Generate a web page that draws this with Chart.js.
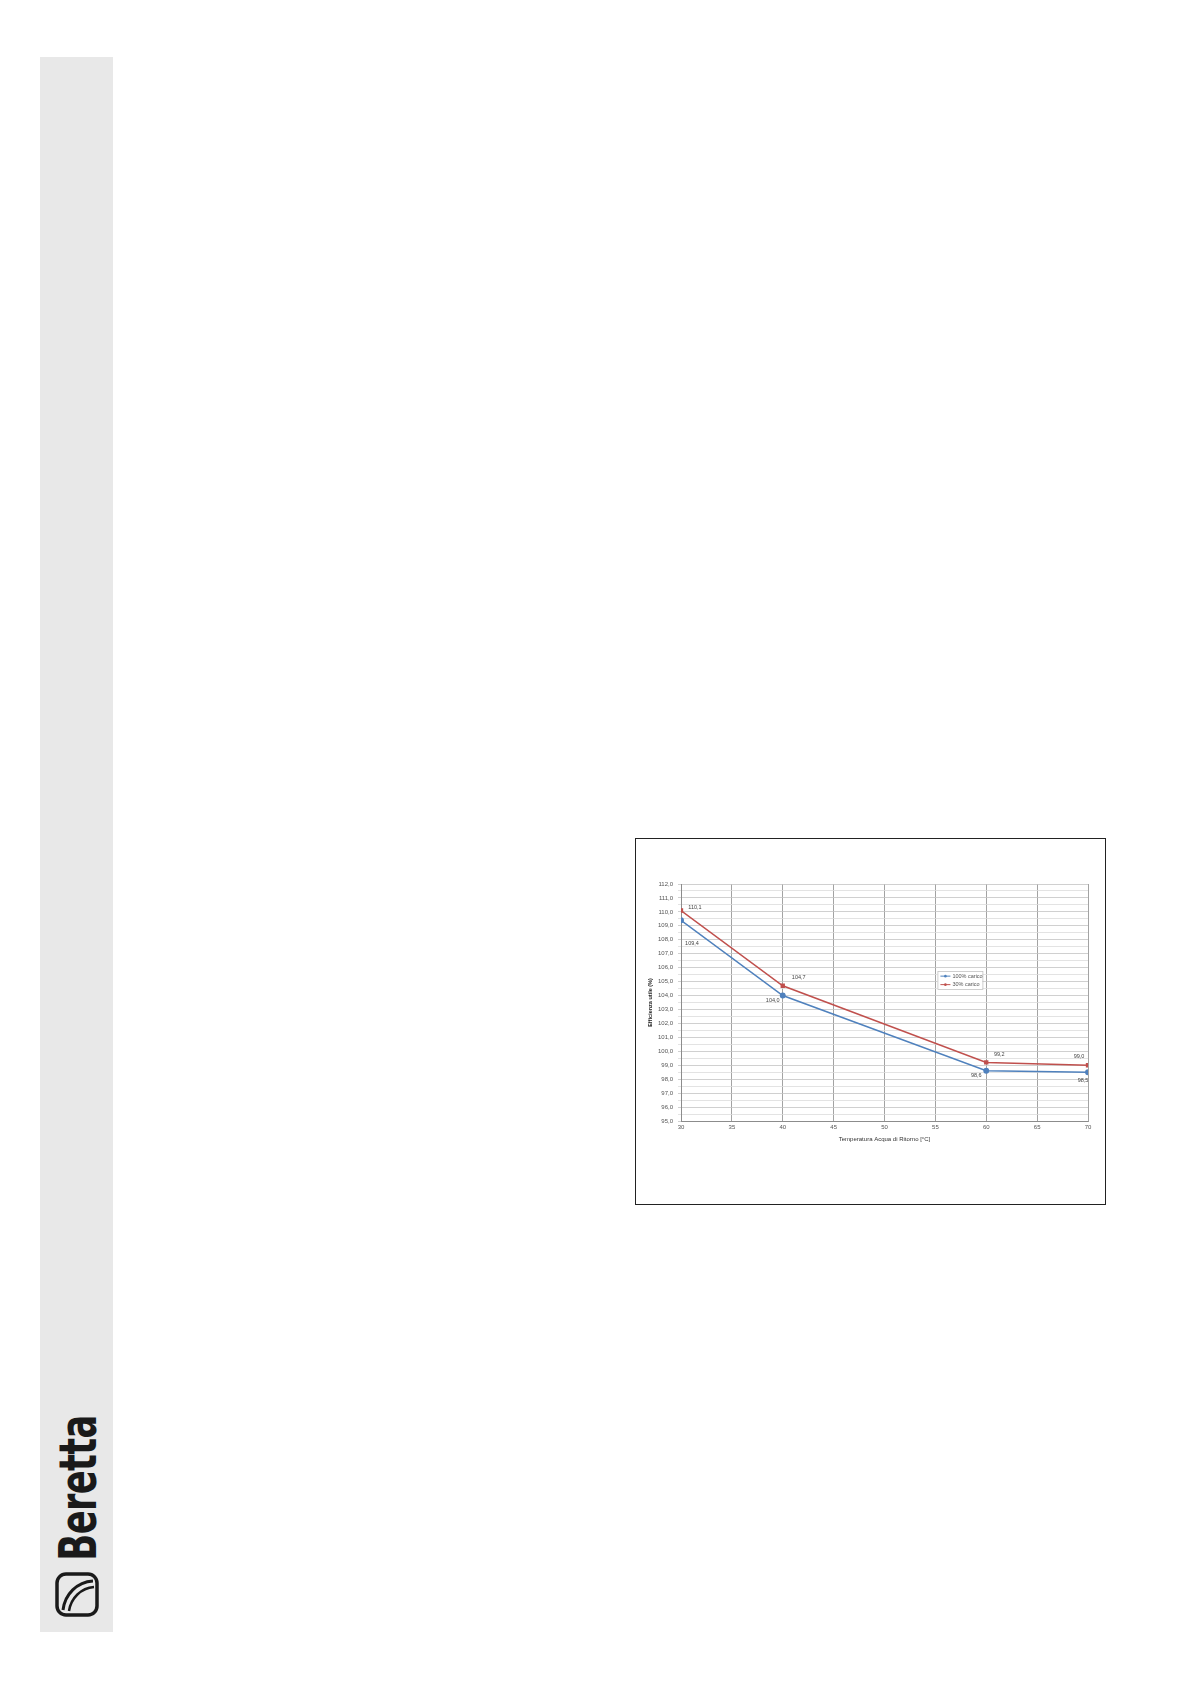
<!DOCTYPE html>
<html lang="it">
<head>
<meta charset="UTF-8">
<title>Efficienza utile</title>
<script src="https://cdn.jsdelivr.net/npm/chart.js@4.4.0/dist/chart.umd.min.js"></script>
<style>
    body {
        margin: 0;
        width: 1191px;
        height: 1684px;
        background: #fff;
        position: relative;
        font-family: 'Liberation Sans', Arial, sans-serif;
    }
    .sidebar {
        position: absolute;
        left: 40px;
        top: 57px;
        width: 73px;
        height: 1575px;
        background: #e8e8e8;
    }
    .brand {
        position: absolute;
        left: 78px;
        top: 1488px;
        transform: translate(-50%, -50%) rotate(-90deg) scaleX(0.68);
        font-family: 'DejaVu Sans', sans-serif;
        font-weight: bold;
        font-size: 52px;
        line-height: 1;
        letter-spacing: -1px;
        color: #1a1a1a;
        white-space: nowrap;
    }
    .logo {
        position: absolute;
        left: 55px;
        top: 1572px;
    }
    .chart-box {
        position: absolute;
        left: 635px;
        top: 838px;
        width: 469px;
        height: 365px;
        border: 1px solid #222;
    }
</style>
</head>
<body>
<div class="sidebar"></div>
<div class="brand">Beretta</div>
<svg class="logo" width="44" height="45" viewBox="0 0 44 45">
    <rect x="2" y="2" width="40" height="41" rx="9" fill="none" stroke="#1a1a1a" stroke-width="3.5"/>
    <path d="M8 38 C 10 22, 22 10, 38 9" fill="none" stroke="#1a1a1a" stroke-width="3"/>
    <path d="M14 39 C 16 26, 26 16, 39 15" fill="none" stroke="#1a1a1a" stroke-width="2.5"/>
</svg>

<div class="chart-box">
    <canvas id="chart" width="469" height="365"></canvas>
</div>

<script>
// --- data ---
const temperature = [30, 40, 60, 70];
const load100 = [109.4, 104.0, 98.6, 98.5];
const load30 = [110.1, 104.7, 99.2, 99.0];
const seriesNames = ['100% carico', '30% carico'];
const xTitle = 'Temperatura Acqua di Ritorno [°C]';
const yTitle = 'Efficienza utile (%)';

const BLUE = '#4f81bd';
const RED = '#c0504d';

function fmt(v) {
    return v.toFixed(1).replace('.', ',');
}

// value labels next to each point (offsets in px)
const valueLabels = {
    id: 'valueLabels',
    afterDatasetsDraw(chart, args, opts) {
        const ctx = chart.ctx;
        ctx.save();
        ctx.font = '5.5px "Liberation Sans", Arial, sans-serif';
        ctx.fillStyle = '#444';
        ctx.textAlign = 'center';
        ctx.textBaseline = 'middle';
        chart.data.datasets.forEach((ds, i) => {
            const meta = chart.getDatasetMeta(i);
            const offs = opts.offsets[i];
            meta.data.forEach((pt, j) => {
                ctx.fillText(fmt(ds.data[j].y), pt.x + offs[j][0], pt.y + offs[j][1]);
            });
        });
        ctx.restore();
    }
};

// legend drawn inside the plot, like the original
const innerLegend = {
    id: 'innerLegend',
    afterDraw(chart, args, opts) {
        const ctx = chart.ctx;
        const x = chart.scales.x.getPixelForValue(opts.atX);
        const y = chart.scales.y.getPixelForValue(opts.atY);
        const w = 45, h = 18;
        ctx.save();
        ctx.fillStyle = '#fff';
        ctx.fillRect(x, y, w, h);
        ctx.strokeStyle = '#bbb';
        ctx.lineWidth = 0.7;
        ctx.strokeRect(x + 0.5, y + 0.5, w, h);
        ctx.font = '5.5px "Liberation Sans", Arial, sans-serif';
        ctx.textBaseline = 'middle';
        chart.data.datasets.forEach((ds, i) => {
            const ly = y + 5 + i * 8.5;
            ctx.strokeStyle = ds.borderColor;
            ctx.lineWidth = 1;
            ctx.beginPath();
            ctx.moveTo(x + 3, ly);
            ctx.lineTo(x + 13, ly);
            ctx.stroke();
            ctx.fillStyle = ds.borderColor;
            ctx.beginPath();
            ctx.arc(x + 8, ly, 1.3, 0, Math.PI * 2);
            ctx.fill();
            ctx.fillStyle = '#555';
            ctx.fillText(ds.label, x + 15, ly);
        });
        ctx.restore();
    }
};

const toPoints = arr => arr.map((v, i) => ({ x: temperature[i], y: v }));

new Chart(document.getElementById('chart'), {
    type: 'line',
    data: {
        datasets: [
            {
                label: seriesNames[0],
                data: toPoints(load100),
                borderColor: BLUE,
                backgroundColor: BLUE,
                borderWidth: 1.5,
                pointRadius: 2.2,
                pointStyle: 'circle'
            },
            {
                label: seriesNames[1],
                data: toPoints(load30),
                borderColor: RED,
                backgroundColor: RED,
                borderWidth: 1.5,
                pointRadius: 2,
                pointStyle: 'rect'
            }
        ]
    },
    plugins: [valueLabels, innerLegend],
    options: {
        responsive: false,
        animation: false,
        layout: { padding: { left: 0, top: 45, right: 17, bottom: 53 } },
        plugins: {
            legend: { display: false },
            tooltip: { enabled: false },
            valueLabels: {
                offsets: [
                    [[11, 23], [-10, 5], [-10, 5], [-5, 8]],
                    [[14, -3], [16, -8], [13, -8], [-9, -9]]
                ]
            },
            innerLegend: { atX: 55.2, atY: 105.75 }
        },
        scales: {
            x: {
                type: 'linear',
                min: 30,
                max: 70,
                afterFit(scale) { scale.height = 30; },
                ticks: {
                    stepSize: 5,
                    color: '#555',
                    font: { size: 6, family: '"Liberation Sans", Arial, sans-serif' },
                    padding: 3
                },
                grid: { color: '#8c8c8c', lineWidth: 0.8, drawTicks: false },
                border: { color: '#8c8c8c' },
                title: {
                    display: true,
                    text: xTitle,
                    color: '#333',
                    font: { size: 6, family: '"Liberation Sans", Arial, sans-serif' },
                    padding: { top: 4, bottom: 8 }
                }
            },
            y: {
                min: 95,
                max: 112,
                afterFit(scale) { scale.width = 45; },
                ticks: {
                    stepSize: 0.5,
                    autoSkip: false,
                    color: '#555',
                    font: { size: 6, family: '"Liberation Sans", Arial, sans-serif' },
                    padding: 5,
                    callback: v => (Number.isInteger(v) ? fmt(v) : '')
                },
                grid: {
                    color: ctx => (Number.isInteger(ctx.tick.value) ? '#c4c4c4' : '#dcdcdc'),
                    lineWidth: 0.8,
                    drawTicks: true,
                    tickLength: 3
                },
                border: { color: '#8c8c8c' },
                title: {
                    display: true,
                    text: yTitle,
                    color: '#222',
                    font: { size: 5.5, weight: 'bold', family: '"Liberation Sans", Arial, sans-serif' },
                    padding: { top: 11, bottom: 2 }
                }
            }
        }
    }
});
</script>
</body>
</html>
